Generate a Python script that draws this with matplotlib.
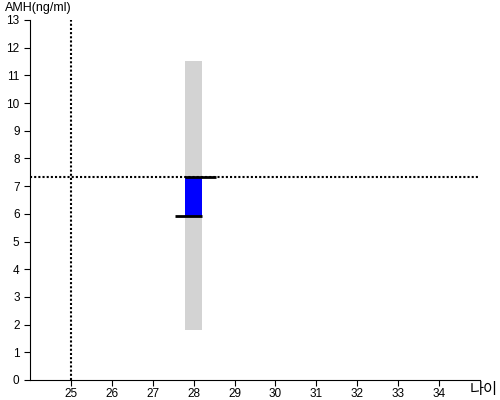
import matplotlib
matplotlib.use("Agg")
import matplotlib.pyplot as plt

plt.rcParams["font.family"] = ["Liberation Sans", "Noto Sans CJK KR", "DejaVu Sans"]

# data
age = 28
range_low = 1.8
range_high = 11.52
amh_low = 5.92
amh_high = 7.33
ref_age = 25
ref_amh = 7.33
x_ticks = list(range(25, 35))
y_ticks = list(range(0, 14))

fig = plt.figure(figsize=(5, 4), dpi=100)
ax = fig.add_axes([0.06, 0.05, 0.90, 0.90])

bar_w = 0.4
ax.bar(age, range_high - range_low, bottom=range_low, width=bar_w, color="#d3d3d3", zorder=1)
ax.bar(age, amh_high - amh_low, bottom=amh_low, width=bar_w, color="#0000ff", zorder=2)
ax.hlines(amh_high, age - bar_w / 2, age + 0.55, color="black", lw=2, zorder=3)
ax.hlines(amh_low, age - 0.45, age + bar_w / 2, color="black", lw=2, zorder=3)

ax.axhline(ref_amh, color="black", ls=(0, (1, 1)), lw=1.5, zorder=4)
ax.axvline(ref_age, color="black", ls=(0, (1, 1)), lw=1.5, zorder=4)

ax.set_xlim(24, 35)
ax.set_ylim(0, 13)
ax.set_xticks(x_ticks)
ax.set_yticks(y_ticks)
ax.tick_params(labelsize=8.5, length=4, color="black")
ax.tick_params(axis="x", pad=1.5)
ax.spines["top"].set_visible(False)
ax.spines["right"].set_visible(False)

fig.text(0.01, 0.995, "AMH(ng/ml)", fontsize=9, ha="left", va="top")
fig.text(0.995, 0.005, "나이", fontsize=11, ha="right", va="bottom",
         family=["Noto Sans CJK KR", "DejaVu Sans"])

fig.savefig("out.png", dpi=100)
